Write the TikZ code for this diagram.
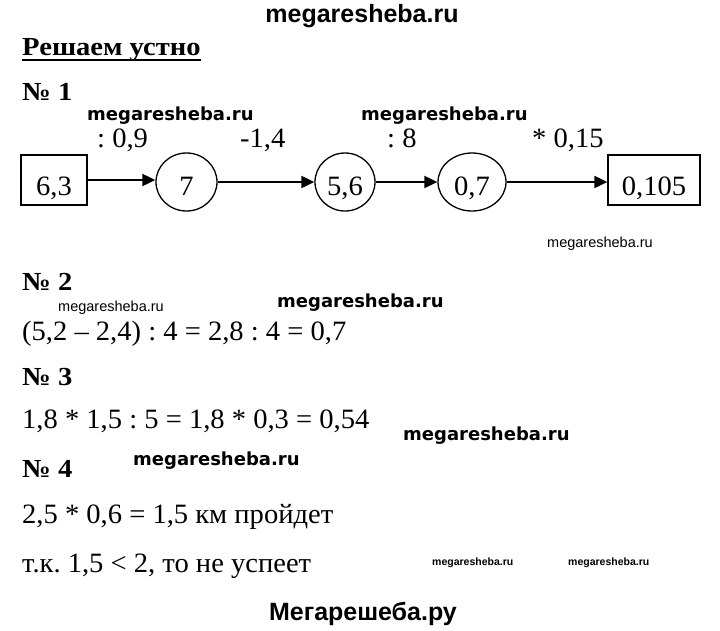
\documentclass[tikz,border=0pt]{standalone}
\usepackage{fontspec}
\setmainfont{Liberation Serif}[FakeStretch=1.02]
\newfontfamily\hdgfont{Liberation Serif}[FakeStretch=1.1]
\newfontfamily\wmsans{Liberation Sans}
\newfontfamily\wmdv{DejaVu Sans}
\usetikzlibrary{arrows.meta,shapes.geometric}
\frenchspacing
\begin{document}
\begin{tikzpicture}[x=1pt,y=-1pt,
  txt/.style={anchor=base west,inner sep=0pt,font=\fontsize{28}{30}\selectfont},
  hdg/.style={anchor=base west,inner sep=0pt,font=\hdgfont\bfseries\fontsize{26}{30}\selectfont},
  wmtop/.style={anchor=base,inner sep=0pt,font=\wmsans\bfseries\fontsize{25}{28}\selectfont},
  wmbold/.style={anchor=base west,inner sep=0pt,font=\wmdv\bfseries\fontsize{18}{20}\selectfont},
  wmsmall/.style={anchor=base west,inner sep=0pt,font=\wmsans\fontsize{14.5}{16}\selectfont},
  wmtiny/.style={anchor=base west,inner sep=0pt,font=\wmsans\bfseries\fontsize{10.5}{12}\selectfont},
  oplabel/.style={anchor=base west,inner sep=0pt,font=\fontsize{28}{30}\selectfont},
  boxnode/.style={draw,line width=1.3pt,rectangle,inner sep=0pt,minimum height=50pt,
    text height=30pt,text depth=0pt,anchor=base,font=\fontsize{28}{30}\selectfont},
  circnode/.style={draw,line width=1.3pt,ellipse,inner sep=0pt,minimum height=58pt,
    text height=26pt,text depth=0pt,anchor=base,font=\fontsize{28}{30}\selectfont},
  arr/.style={-{Triangle[length=13pt,width=12pt]},line width=2pt}
]
\useasboundingbox (0,0) rectangle (720,630);
\fill[white] (0,0) rectangle (720,630);

% watermarks
\node[wmtop] (w0) at (362,22) {megaresheba.ru};
\node[wmbold] (w1) at (87,120) {megaresheba.ru};
\node[wmbold] (w2) at (361,120) {megaresheba.ru};
\node[wmsmall] (w3) at (547,247) {megaresheba.ru};
\node[wmsmall] (w4) at (58,311) {megaresheba.ru};
\node[wmbold] (w5) at (277,307) {megaresheba.ru};
\node[wmbold] (w6) at (403,440) {megaresheba.ru};
\node[wmbold] (w7) at (133,465) {megaresheba.ru};
\node[wmtiny] (w8) at (432,565) {megaresheba.ru};
\node[wmtiny] (w9) at (568,565) {megaresheba.ru};
\node[wmtop] (w10) at (363,620) {Мегарешеба.ру};

% heading
\node[hdg] (hd) at (22,55) {Решаем устно};
\draw[line width=2.5pt] ([yshift=-5pt]hd.base west) -- ([yshift=-5pt]hd.base east);

% task 1
\node[hdg] (n1) at (22,100) {№ 1};
\node[boxnode,minimum width=66pt] (b1) at (54,195) {6,3};
\node[circnode,minimum width=61pt] (c1) at (186.5,195) {7};
\node[circnode,minimum width=60pt] (c2) at (345,195) {5,6};
\node[circnode,minimum width=68pt] (c3) at (472,195) {0,7};
\node[boxnode,minimum width=92pt] (b2) at (654,195) {0,105};
\draw[arr] (b1.east) -- (b1.east -| c1.west);
\draw[arr] (c1.east) -- (c2.west);
\draw[arr] (c2.east) -- (c3.west);
\draw[arr] (c3.east) -- (c3.east -| b2.west);
\node[oplabel] (l1) at (97,147) {: 0,9};
\node[oplabel] (l2) at (240,147) {-1,4};
\node[oplabel] (l3) at (387,147) {: 8};
\node[oplabel] (l4) at (532,147) {* 0,15};

% task 2
\node[hdg] (n2) at (22,290) {№ 2};
\node[txt] (e2) at (22,340) {(5,2 – 2,4) : 4 = 2,8 : 4 = 0,7};

% task 3
\node[hdg] (n3) at (22,385) {№ 3};
\node[txt] (e3) at (22,428) {1,8 * 1,5 : 5 = 1,8 * 0,3 = 0,54};

% task 4
\node[hdg] (n4) at (22,477) {№ 4};
\node[txt] (e4) at (22,523) {2,5 * 0,6 = 1,5 км пройдет};
\node[txt] (e5) at (22,572) {т.к. 1,5 < 2, то не успеет};
\end{tikzpicture}
\end{document}
